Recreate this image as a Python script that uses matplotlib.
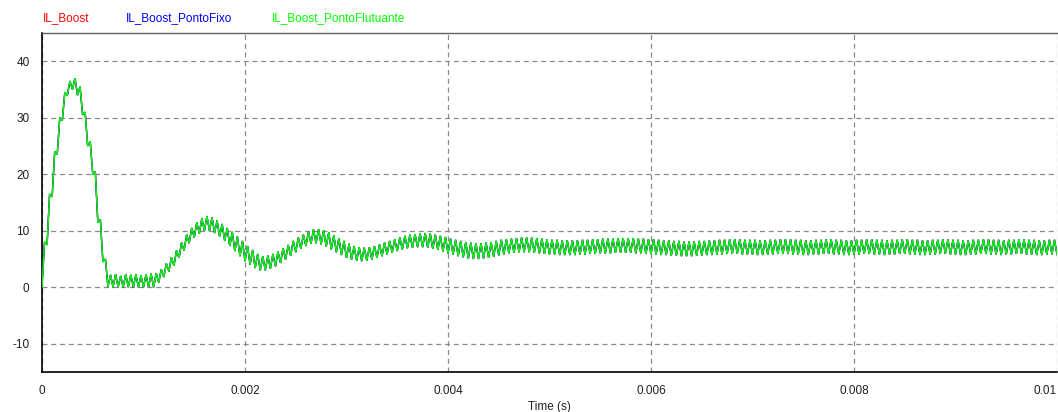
import numpy as np
import matplotlib
matplotlib.use("Agg")
import matplotlib.pyplot as plt

# ---------------- data ----------------
series_names = ["IL_Boost", "IL_Boost_PontoFixo", "IL_Boost_PontoFlutuante"]
series_colors = ["#ff0000", "#0000ff", "#00ff00"]

switch_period = 50e-6          # s, one ripple cycle
duty = 0.5                     # fraction of the cycle spent rising

# current at the start (valley) of each switching cycle, A
valleys = [
    0, 7.5, 16, 23.5, 29.5, 34, 35, 34, 30.5, 25,
    20, 11.5, 4.5, 0, 0, 0, 0, 0, 0, 0,
    0, 0, 0, 0.8, 1.8, 2.8, 3.8, 5.2, 6.5, 7.8,
    8.8, 9.5, 10.0, 10.0, 9.6, 9.0, 8.2, 7.3, 6.4, 5.5,
    4.6, 4.0, 3.4, 3.0, 3.0, 3.3, 3.7, 4.3, 4.9, 5.6,
    6.2, 6.8, 7.3, 7.7, 7.8, 7.6, 7.2, 6.7, 6.2, 5.7,
    5.2, 4.9, 4.7, 4.6, 4.7, 4.9, 5.2, 5.5, 5.8, 6.1,
    6.4, 6.7, 6.9, 7.0, 7.1, 7.1, 7.0, 6.8, 6.6, 6.3,
    6.0, 5.8, 5.5, 5.3, 5.1, 5.0, 5.0, 5.1, 5.2, 5.4,
    5.6, 5.8, 6.0, 6.1, 6.2, 6.2, 6.2, 6.1, 6.0, 5.9,
    5.8, 5.8, 5.7, 5.7, 5.7, 5.7, 5.8, 5.8, 5.9, 5.9,
    6.0, 6.0, 6.0, 6.1, 6.1, 6.1, 6.1, 6.0, 6.0, 5.9,
    5.9, 5.8, 5.7, 5.7, 5.6, 5.6, 5.5, 5.5, 5.5, 5.6,
    5.6, 5.7, 5.7, 5.8, 5.8, 5.9, 5.9, 5.9, 5.8, 5.8,
    5.8, 5.7, 5.7, 5.8, 5.8, 5.9, 5.9, 5.9, 5.8, 5.8,
    5.7, 5.7, 5.8, 5.8, 5.9, 5.9, 5.8, 5.8, 5.7, 5.7,
    5.8, 5.8, 5.9, 5.9, 5.8, 5.8, 5.7, 5.8, 5.8, 5.9,
    5.9, 5.8, 5.8, 5.7, 5.7, 5.8, 5.8, 5.9, 5.9, 5.8,
    5.8, 5.7, 5.7, 5.8, 5.8, 5.9, 5.9, 5.8, 5.8, 5.7,
    5.8, 5.8, 5.9, 5.9, 5.8, 5.8, 5.7, 5.7, 5.8, 5.8,
]

# current at the top (peak) of each switching cycle, A
peaks = [
    8, 16.5, 24, 30, 34.5, 36.5, 37, 35.5, 31, 25.8,
    20.5, 12, 5, 2.2, 2.3, 2.0, 2.3, 2.2, 2.3, 2.1,
    2.3, 2.4, 2.5, 3.2, 4.2, 5.3, 6.5, 7.9, 9.3, 10.5,
    11.5, 12.2, 12.6, 12.4, 11.8, 11.2, 10.5, 9.8, 9.0, 8.2,
    7.3, 6.6, 5.9, 5.5, 5.6, 5.9, 6.3, 6.9, 7.5, 8.2,
    8.8, 9.3, 9.8, 10.2, 10.3, 10.1, 9.7, 9.2, 8.7, 8.2,
    7.7, 7.3, 7.1, 7.0, 7.1, 7.3, 7.6, 7.9, 8.2, 8.5,
    8.8, 9.1, 9.3, 9.4, 9.5, 9.6, 9.5, 9.3, 9.1, 8.9,
    8.6, 8.4, 8.2, 8.0, 7.9, 7.8, 7.8, 7.9, 8.0, 8.2,
    8.4, 8.5, 8.6, 8.7, 8.8, 8.8, 8.8, 8.7, 8.6, 8.5,
    8.4, 8.4, 8.3, 8.3, 8.3, 8.3, 8.4, 8.4, 8.5, 8.5,
    8.6, 8.6, 8.6, 8.7, 8.7, 8.7, 8.7, 8.6, 8.6, 8.5,
    8.5, 8.4, 8.3, 8.3, 8.2, 8.2, 8.1, 8.1, 8.1, 8.2,
    8.2, 8.3, 8.3, 8.4, 8.4, 8.5, 8.5, 8.5, 8.4, 8.4,
    8.4, 8.3, 8.3, 8.4, 8.4, 8.5, 8.5, 8.5, 8.4, 8.4,
    8.3, 8.3, 8.4, 8.4, 8.5, 8.5, 8.4, 8.4, 8.3, 8.3,
    8.4, 8.4, 8.5, 8.5, 8.4, 8.4, 8.3, 8.4, 8.4, 8.5,
    8.5, 8.4, 8.4, 8.3, 8.3, 8.4, 8.4, 8.5, 8.5, 8.4,
    8.4, 8.3, 8.3, 8.4, 8.4, 8.5, 8.5, 8.4, 8.4, 8.3,
    8.4, 8.4, 8.5, 8.5, 8.4, 8.4, 8.3, 8.3, 8.4, 8.4,
]

x_ticks = [0, 0.002, 0.004, 0.006, 0.008, 0.01]
x_tick_labels = ["0", "0.002", "0.004", "0.006", "0.008", "0.01"]
y_ticks = [-10, 0, 10, 20, 30, 40]
y_tick_labels = ["-10", "0", "10", "20", "30", "40"]

# ---------------- build waveform samples ----------------
n = len(valleys)
k = np.arange(n)
t_start = k * switch_period
t_top = (k + duty) * switch_period
t = np.empty(2 * n + 1)
y = np.empty(2 * n + 1)
t[0:2 * n:2] = t_start
t[1:2 * n:2] = t_top
y[0:2 * n:2] = valleys
y[1:2 * n:2] = peaks
t[-1] = n * switch_period
y[-1] = valleys[-1]

# ---------------- figure ----------------
W, H = 1058, 412
fig = plt.figure(figsize=(W / 100, H / 100), dpi=100)
ax_left, ax_right, ax_top, ax_bottom = 42, 1057, 33, 372
ax = fig.add_axes([ax_left / W, (H - ax_bottom) / H,
                   (ax_right - ax_left) / W, (ax_bottom - ax_top) / H])

for name, col in zip(series_names, series_colors):
    ax.plot(t, y, color=col, lw=1.0, solid_joinstyle="miter", zorder=3)

ax.set_xlim(0, 0.01)
ax.set_ylim(-15, 45)
ax.set_xticks(x_ticks)
ax.set_xticklabels(x_tick_labels)
ax.set_yticks(y_ticks)
ax.set_yticklabels(y_tick_labels)

font = "Liberation Sans"
ax.tick_params(axis="both", length=0, labelsize=8.5, labelcolor="#202020")
ax.tick_params(axis="y", pad=9)
ax.tick_params(axis="x", pad=9)
for lab in ax.get_xticklabels() + ax.get_yticklabels():
    lab.set_fontfamily(font)
ax.get_xticklabels()[-1].set_horizontalalignment("right")

ax.grid(True, color="#8a8a8a", linestyle=(0, (4, 3)), linewidth=0.9, zorder=1)

ax.spines["left"].set_color("black")
ax.spines["bottom"].set_color("black")
ax.spines["left"].set_linewidth(1.2)
ax.spines["bottom"].set_linewidth(1.2)
ax.spines["top"].set_color("#606060")
ax.spines["top"].set_linewidth(1.0)
ax.spines["right"].set_visible(False)

ax.set_xlabel("Time (s)", fontsize=8.5, fontfamily=font, color="#202020", labelpad=3)

legend_x = [43, 126, 272]
for name, col, px in zip(series_names, series_colors, legend_x):
    fig.text(px / W, 1 - 18 / H, name, color=col, fontsize=8.5,
             fontfamily=font, va="center", ha="left")

fig.savefig("out.png", dpi=100)
